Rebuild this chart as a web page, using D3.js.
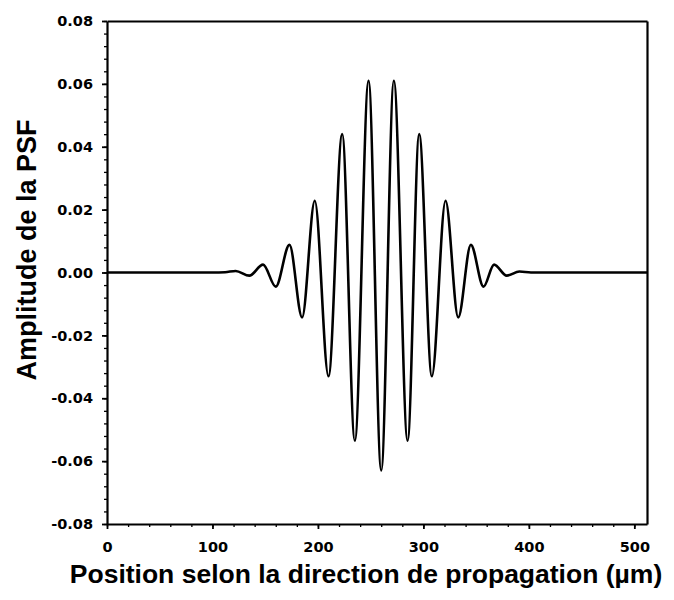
<!DOCTYPE html>
<html>
<head>
<meta charset="utf-8">
<script src="https://cdn.jsdelivr.net/npm/d3@7/dist/d3.min.js"></script>
<style>
  html, body { margin: 0; padding: 0; background: #fff; }
  svg { display: block; }
  .tick text { font-family: "DejaVu Sans", sans-serif; font-weight: bold; font-size: 14.5px; fill: #000; }
  .axis path, .axis line { stroke: #000; }
  .title { font-family: "Liberation Sans", Arial, sans-serif; font-weight: bold; fill: #000; }
</style>
</head>
<body>
<svg id="chart" width="674" height="600"></svg>
<script>
// Position along the propagation direction (µm) and PSF amplitude at the
// turning points of the oscillation, plus the flat tails on either side.
const positionsUm = [0, 100, 112, 122, 135, 148, 160, 173, 185, 197, 210, 223, 235, 248, 260,
                     272, 285, 296, 308, 321, 333, 345, 357, 367, 379, 391, 402, 512];
const amplitudes  = [0, 0, 0.0001, 0.0005, -0.001, 0.0025, -0.0045, 0.0088, -0.0143, 0.0228, -0.033,
                     0.044, -0.0535, 0.061, -0.063, 0.061, -0.0535, 0.044, -0.033, 0.0228, -0.0143,
                     0.0088, -0.0045, 0.0025, -0.001, 0.0003, 0, 0];

const xTicks = [0, 100, 200, 300, 400, 500];
const xMinorTicks = d3.range(0, 512, 20);
const yTicks = [-0.08, -0.06, -0.04, -0.02, 0.00, 0.02, 0.04, 0.06, 0.08];
const yMinorTicks = d3.range(-80, 81, 4).map(v => v / 1000);

const xTitle = "Position selon la direction de propagation (µm)";
const yTitle = "Amplitude de la PSF";

const svg = d3.select("#chart");
const plotLeft = 107, plotRight = 647, plotTop = 21, plotBottom = 524;

const x = d3.scaleLinear().domain([0, 512]).range([plotLeft, plotRight]);
const y = d3.scaleLinear().domain([-0.08, 0.08]).range([plotBottom, plotTop]);

// minor ticks (no labels)
svg.append("g").attr("class", "axis")
  .attr("transform", `translate(0,${plotBottom})`)
  .call(d3.axisBottom(x).tickValues(xMinorTicks).tickSize(3).tickSizeOuter(0).tickFormat(""))
  .call(g => g.select(".domain").remove())
  .selectAll("line").attr("stroke-width", 1.3);
svg.append("g").attr("class", "axis")
  .attr("transform", `translate(${plotLeft},0)`)
  .call(d3.axisLeft(y).tickValues(yMinorTicks).tickSize(3).tickSizeOuter(0).tickFormat(""))
  .call(g => g.select(".domain").remove())
  .selectAll("line").attr("stroke-width", 1.3);

// frame: top and right edges
svg.append("g").attr("class", "axis")
  .attr("transform", `translate(0,${plotTop})`)
  .call(d3.axisTop(x).tickValues([]).tickSizeOuter(0))
  .select(".domain").attr("stroke-width", 2.2);
svg.append("g").attr("class", "axis")
  .attr("transform", `translate(${plotRight},0)`)
  .call(d3.axisRight(y).tickValues([]).tickSizeOuter(0))
  .select(".domain").attr("stroke-width", 2.2);

// major axes
const xAxis = svg.append("g").attr("class", "axis")
  .attr("transform", `translate(0,${plotBottom})`)
  .call(d3.axisBottom(x).tickValues(xTicks).tickSize(5).tickSizeOuter(0).tickPadding(13)
    .tickFormat(d => String(d)));
xAxis.select(".domain").attr("stroke-width", 2.2);
xAxis.selectAll(".tick line").attr("stroke-width", 1.8);

const yAxis = svg.append("g").attr("class", "axis")
  .attr("transform", `translate(${plotLeft},0)`)
  .call(d3.axisLeft(y).tickValues(yTicks).tickSize(5).tickSizeOuter(0).tickPadding(9)
    .tickFormat(d => d.toFixed(2)));
yAxis.select(".domain").attr("stroke-width", 2.2);
yAxis.selectAll(".tick line").attr("stroke-width", 1.8);

// PSF curve
const points = positionsUm.map((p, i) => [p, amplitudes[i]]);
const line = d3.line()
  .x(d => x(d[0]))
  .y(d => y(d[1]))
  .curve(d3.curveMonotoneX);

svg.append("path")
  .datum(points)
  .attr("d", line)
  .attr("fill", "none")
  .attr("stroke", "#000")
  .attr("stroke-width", 2.6)
  .attr("stroke-linejoin", "round");

// axis titles
svg.append("text").attr("class", "title")
  .attr("x", 366).attr("y", 583)
  .attr("text-anchor", "middle")
  .attr("font-size", 26.5)
  .text(xTitle);

svg.append("text").attr("class", "title")
  .attr("transform", "translate(36,250) rotate(-90)")
  .attr("text-anchor", "middle")
  .attr("font-size", 27)
  .text(yTitle);
</script>
</body>
</html>
